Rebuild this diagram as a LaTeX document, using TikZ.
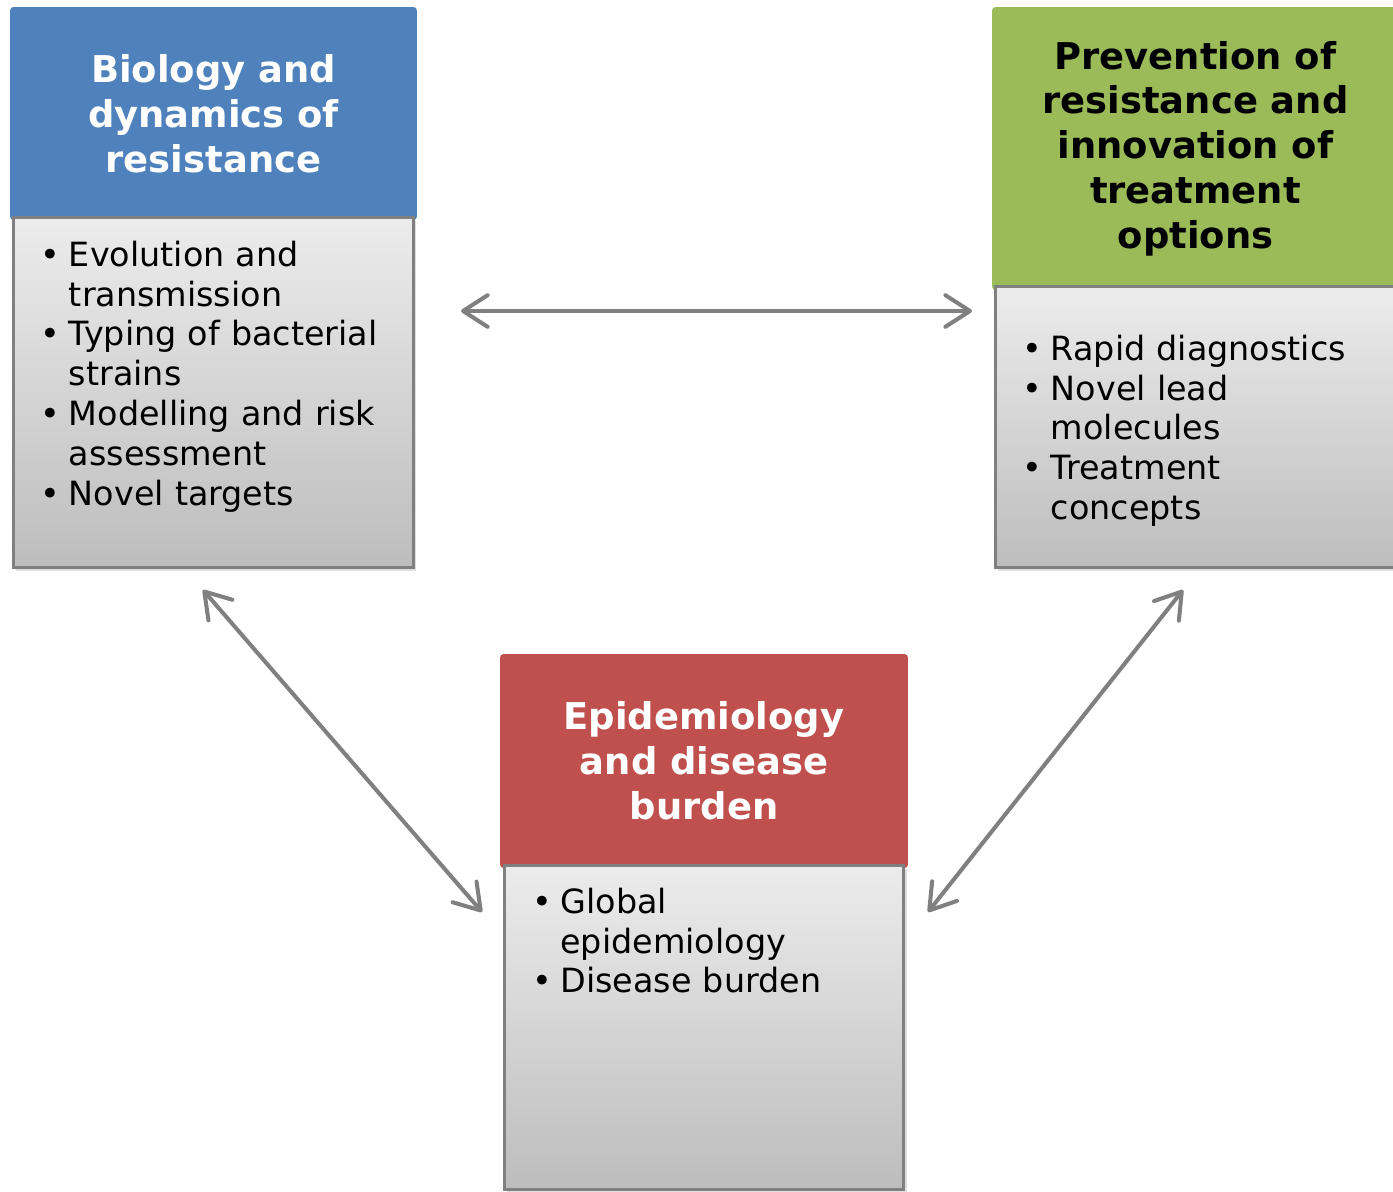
\documentclass[tikz,border=0pt]{standalone}
\usepackage{fontspec}
\setmainfont{DejaVu Sans}
\usepackage{tikz}
\usetikzlibrary{positioning,shadows,arrows.meta}

\definecolor{bioblue}{HTML}{4F81BD}
\definecolor{prevgreen}{HTML}{9BBB59}
\definecolor{epired}{HTML}{C0504D}
\definecolor{boxline}{HTML}{808080}

\tikzstyle{header} = [rectangle, rounded corners=2pt, text centered, align=center, outer sep=0, minimum width=8.14cm, font=\fontsize{21}{25.5}\selectfont\bfseries]
\tikzstyle{body} = [rectangle, draw=boxline, line width=1.7pt, outer sep=0, minimum width=8cm, top color=gray!15, bottom color=gray!52, drop shadow={shadow xshift=1.5pt, shadow yshift=-1.5pt, opacity=0.25}]
\tikzstyle{bullets} = [anchor=north west, inner sep=0, text width=7.2cm, align=left, font=\fontsize{19}{22.7}\selectfont]
\tikzstyle{connector} = [line width=2.3pt, boxline, {Straight Barb[length=14pt,width=18pt,round]}-{Straight Barb[length=14pt,width=18pt,round]}]

\newcommand{\bitem}[1]{\par\noindent\hangindent=0.72em\hangafter=1\makebox[0.72em][l]{\hspace{-0.12em}\textbullet}#1\par}

\begin{document}
\begin{tikzpicture}[x=0.02cm, y=-0.02cm]
        \useasboundingbox (0,0) rectangle (1393,1192);
        \node (bioHead) [header, fill=bioblue, text=white, minimum height=4.26cm] at (213.5,113.5) {Biology and\\dynamics of\\resistance};
        \node (bioBody) [body, minimum height=7cm, below=-0.04cm of bioHead] {};
        \node (bioList) [bullets] at ([xshift=0.62cm, yshift=-0.16cm]bioBody.north west) {\bitem{Evolution and\newline transmission}\bitem{Typing of bacterial\newline strains}\bitem{Modelling and risk\newline assessment}\bitem{Novel targets}};
        \node (prevHead) [header, fill=prevgreen, text=black, minimum height=5.66cm] at (1195.5,148.5) {Prevention of\\resistance and\\innovation of\\treatment\\options};
        \node (prevBody) [body, minimum height=5.62cm, below=-0.06cm of prevHead] {};
        \node (prevList) [bullets] at ([xshift=0.62cm, yshift=-0.66cm]prevBody.north west) {\bitem{Rapid diagnostics}\bitem{Novel lead\newline molecules}\bitem{Treatment\newline concepts}};
        \node (epiHead) [header, fill=epired, text=white, minimum width=8.16cm, minimum height=4.28cm] at (704,761) {Epidemiology\\and disease\\burden};
        \node (epiBody) [body, minimum height=6.48cm, below=-0.04cm of epiHead] {};
        \node (epiList) [bullets] at ([xshift=0.64cm, yshift=-0.14cm]epiBody.north west) {\bitem{Global\newline epidemiology}\bitem{Disease burden}};
        \coordinate (topL) at (461,311);
        \coordinate (topR) at (972,311);
        \coordinate (leftA) at (203,590);
        \coordinate (leftB) at (482,912);
        \coordinate (rightA) at (1183,590);
        \coordinate (rightB) at (928,912);
        \draw [connector] (topL) -- (topR);
        \draw [connector] (leftA) -- (leftB);
        \draw [connector] (rightA) -- (rightB);
    \end{tikzpicture}
\end{document}
